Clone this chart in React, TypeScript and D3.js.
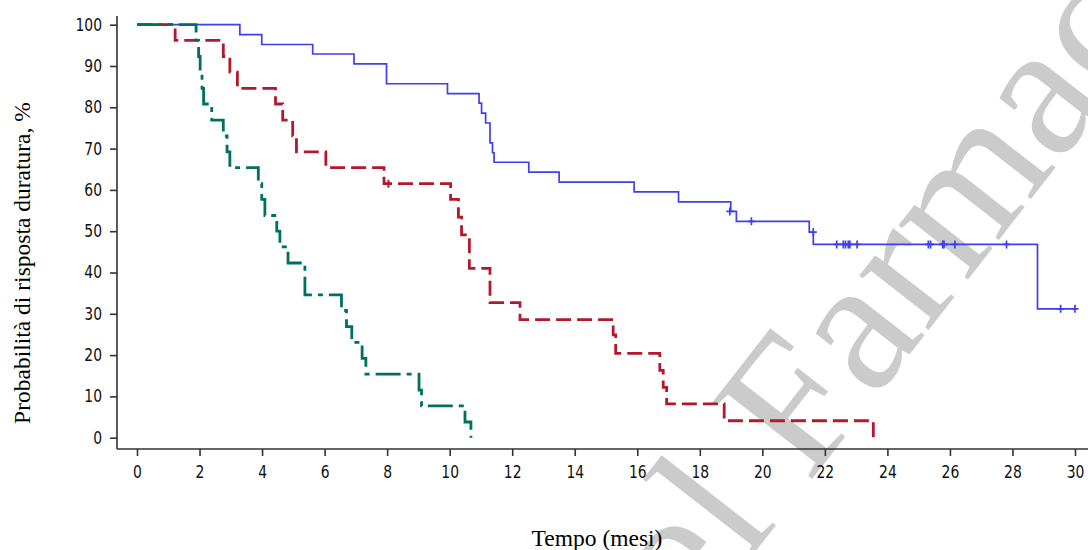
import React, { useEffect, useRef } from 'react';
import * as d3 from 'd3';

// months (x) and % (y)
const xTicks = d3.range(0, 31, 2);
const yTicks = d3.range(0, 101, 10);

// solid blue arm
const blueTimes = [0, 3.29, 3.99, 5.62, 6.94, 7.98, 9.93, 10.94, 11.02, 11.15, 11.29, 11.37, 11.42, 12.53, 13.5, 15.9, 17.32, 18.99, 19.17, 21.5, 21.63, 28.8, 30.0];
const blueSurv = [100, 97.6, 95.2, 92.9, 90.5, 85.7, 83.3, 81.0, 78.6, 76.2, 71.4, 69.0, 66.7, 64.3, 61.9, 59.5, 57.1, 54.8, 52.4, 49.8, 46.8, 31.2, 31.2];
const blueCensorTimes = [18.96, 19.65, 21.63, 22.38, 22.59, 22.66, 22.75, 22.8, 23.03, 25.31, 25.38, 25.77, 25.81, 26.16, 27.81, 29.54, 30.0];
const blueCensorSurv = [54.8, 52.4, 49.8, 46.8, 46.8, 46.8, 46.8, 46.8, 46.8, 46.8, 46.8, 46.8, 46.8, 46.8, 46.8, 31.2, 31.2];

// dashed red arm
const redTimes = [0, 1.22, 2.76, 2.97, 3.21, 4.43, 4.66, 4.98, 5.1, 6.04, 7.9, 10.03, 10.28, 10.38, 10.63, 11.29, 12.25, 15.23, 15.31, 16.72, 16.83, 16.94, 18.78, 23.55];
const redSurv = [100, 96.2, 92.3, 88.5, 84.6, 80.8, 76.9, 73.1, 69.2, 65.4, 61.5, 57.7, 53.4, 49.1, 41.0, 32.7, 28.6, 24.9, 20.4, 16.3, 12.2, 8.2, 4.1, 0];
const redCensorTimes = [8.04];
const redCensorSurv = [61.5];

// dash-dot teal arm
const tealTimes = [0, 1.89, 1.97, 2.02, 2.08, 2.13, 2.39, 2.76, 2.88, 2.97, 3.88, 3.99, 4.09, 4.47, 4.57, 4.83, 5.37, 6.54, 6.7, 6.87, 7.2, 7.32, 9.02, 9.1, 10.49, 10.68];
const tealSurv = [100, 96.2, 92.3, 88.5, 84.6, 80.8, 76.9, 73.1, 69.2, 65.4, 61.5, 57.7, 53.8, 50.0, 46.2, 42.3, 34.6, 30.8, 26.9, 23.1, 19.2, 15.4, 11.5, 7.7, 3.8, 0];

const W = 1088;
const H = 550;
const tickFont = "'DejaVu Sans', sans-serif";
const serif = "'Liberation Serif', 'Times New Roman', serif";
const narrow = 0.82; // squeeze tick digits like the narrow font of the original

const App = () => {
  const ref = useRef<SVGSVGElement>(null);

  useEffect(() => {
    document.body.style.margin = '0';
    const svg = d3.select(ref.current);
    svg.selectAll('*').remove();

    const x = d3.scaleLinear().domain([0, 30]).range([137, 1075]);
    const y = d3.scaleLinear().domain([0, 100]).range([437.7, 24.7]);
    const axisY = 449;
    const axisX = 117;

    // watermark
    svg.append('text')
      .attr('transform', 'translate(634,707) rotate(-52)')
      .attr('font-family', serif)
      .attr('font-size', 192)
      .attr('fill', '#cbcbcb')
      .text('del Farmaco');

    const line = d3.line<[number, number]>()
      .x(d => x(d[0]))
      .y(d => y(d[1]))
      .curve(d3.curveStepAfter);

    const series = [
      { t: blueTimes, s: blueSurv, color: '#3f3ff0', width: 1.7, dash: null },
      { t: redTimes, s: redSurv, color: '#b3182d', width: 2.8, dash: '15,6' },
      { t: tealTimes, s: tealSurv, color: '#007060', width: 2.8, dash: '25,6,5,6' },
    ];
    series.forEach(sr => {
      const pts = sr.t.map((t, i) => [t, sr.s[i]] as [number, number]);
      svg.append('path')
        .datum(pts)
        .attr('fill', 'none')
        .attr('stroke', sr.color)
        .attr('stroke-width', sr.width)
        .attr('stroke-dasharray', sr.dash)
        .attr('d', line);
    });

    // censor marks
    const censors = [
      { t: blueCensorTimes, s: blueCensorSurv, color: '#3f3ff0', width: 1.7 },
      { t: redCensorTimes, s: redCensorSurv, color: '#b3182d', width: 2 },
    ];
    censors.forEach(c => {
      c.t.forEach((t, i) => {
        const cx = x(t);
        const cy = y(c.s[i]);
        svg.append('path')
          .attr('d', `M${cx - 3.5},${cy}H${cx + 3.5}M${cx},${cy - 4}V${cy + 4}`)
          .attr('stroke', c.color)
          .attr('stroke-width', c.width)
          .attr('fill', 'none');
      });
    });

    // axes
    const axisColor = '#333';
    svg.append('line')
      .attr('x1', axisX).attr('x2', axisX)
      .attr('y1', 16).attr('y2', axisY)
      .attr('stroke', axisColor).attr('stroke-width', 1.6);
    svg.append('line')
      .attr('x1', axisX).attr('x2', W)
      .attr('y1', axisY).attr('y2', axisY)
      .attr('stroke', axisColor).attr('stroke-width', 1.6);

    const gx = svg.append('g')
      .attr('transform', `translate(0,${axisY})`)
      .call(d3.axisBottom(x).tickValues(xTicks).tickSize(7).tickPadding(10).tickSizeOuter(0));
    gx.select('.domain').remove();

    const gy = svg.append('g')
      .attr('transform', `translate(${axisX},0)`)
      .call(d3.axisLeft(y).tickValues(yTicks).tickSize(7).tickPadding(8).tickSizeOuter(0));
    gy.select('.domain').remove();

    [gx, gy].forEach(g => {
      g.selectAll('line').attr('stroke', axisColor).attr('stroke-width', 1.6);
      g.selectAll('text')
        .attr('fill', '#111')
        .attr('transform', `scale(${narrow},1)`)
        .style('font-family', tickFont)
        .style('font-size', '17px');
    });
    gy.selectAll('text').attr('x', -15 / narrow);

    // axis titles
    svg.append('text')
      .attr('x', 597)
      .attr('y', 546)
      .attr('text-anchor', 'middle')
      .attr('font-family', serif)
      .attr('font-size', 23.5)
      .attr('fill', '#000')
      .text('Tempo (mesi)');

    svg.append('text')
      .attr('transform', 'translate(30,263) rotate(-90)')
      .attr('text-anchor', 'middle')
      .attr('font-family', serif)
      .attr('font-size', 23.5)
      .attr('fill', '#000')
      .text('Probabilità di risposta duratura, %');
  }, []);

  return <svg ref={ref} width={W} height={H} style={{ display: 'block', background: '#fff' }} />;
};

export default App;
